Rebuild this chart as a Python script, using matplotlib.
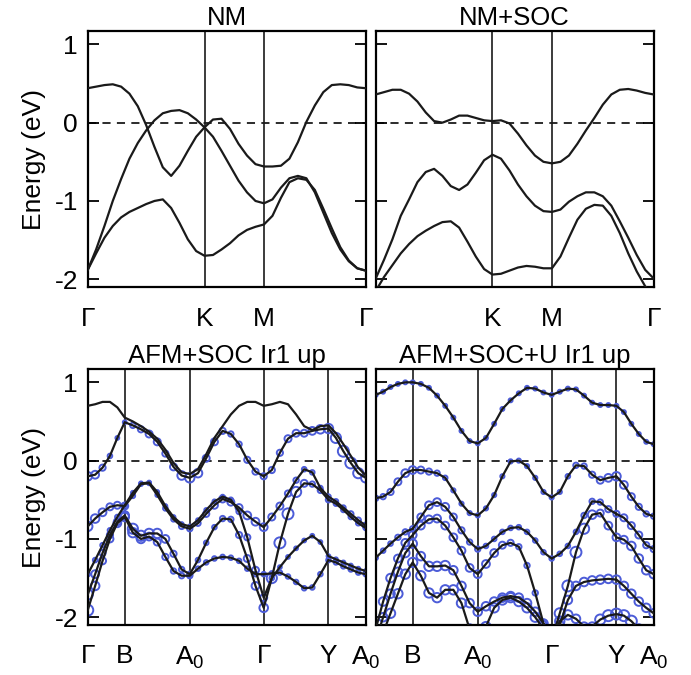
import numpy as np
import matplotlib
matplotlib.use('Agg')
import matplotlib.pyplot as plt

plt.rcParams['font.family'] = ['Liberation Sans', 'DejaVu Sans']
plt.rcParams['mathtext.fontset'] = 'custom'
plt.rcParams['mathtext.rm'] = 'Liberation Sans'
plt.rcParams['mathtext.default'] = 'regular'
plt.rcParams['axes.unicode_minus'] = False
plt.rcParams['font.size'] = 19

## k-path: node positions (fraction of path) and sample steps per segment
topNodes = [0.0, 0.42, 0.634, 1.0]
topSteps = [14, 7, 12]
topLabels = ['Γ', 'K', 'M', 'Γ']

botNodes = [0.0, 0.133, 0.367, 0.633, 0.866, 1.0]
botSteps = [5, 8, 9, 8, 5]
botLabels = ['Γ', 'B', 'A$_0$', 'Γ', 'Y', 'A$_0$']

## NM bands (eV), segments G-K | K-M | M-G
nmBand1 = [0.44, 0.46, 0.48, 0.49, 0.46, 0.37, 0.21, -0.03, -0.31, -0.57, -0.68, -0.55, -0.36, -0.18, -0.06,
           0.04, 0.05, -0.08, -0.27, -0.42, -0.53, -0.56,
           -0.56, -0.55, -0.46, -0.25, 0.01, 0.22, 0.39, 0.48, 0.49, 0.48, 0.45, 0.44]
nmBand2 = [-1.88, -1.62, -1.32, -1.00, -0.72, -0.46, -0.26, -0.10, 0.03, 0.12, 0.15, 0.16, 0.12, 0.04, -0.06,
           -0.18, -0.36, -0.55, -0.74, -0.89, -1.00, -1.03,
           -0.98, -0.83, -0.71, -0.68, -0.71, -0.89, -1.15, -1.41, -1.62, -1.77, -1.86, -1.89]
nmBand3 = [-1.88, -1.67, -1.47, -1.32, -1.21, -1.14, -1.09, -1.04, -1.00, -0.98, -1.09, -1.28, -1.49, -1.64, -1.70,
           -1.69, -1.62, -1.54, -1.44, -1.37, -1.33, -1.30,
           -1.19, -0.96, -0.76, -0.71, -0.73, -0.86, -1.10, -1.35, -1.59, -1.76, -1.86, -1.89]

## NM+SOC bands (eV)
socBand1 = [0.36, 0.39, 0.42, 0.42, 0.37, 0.27, 0.13, 0.02, 0.00, 0.04, 0.09, 0.09, 0.06, 0.03, 0.02,
            0.03, -0.01, -0.14, -0.29, -0.42, -0.50, -0.52,
            -0.50, -0.42, -0.27, -0.10, 0.06, 0.23, 0.36, 0.42, 0.43, 0.41, 0.38, 0.36]
socBand2 = [-1.99, -1.75, -1.49, -1.19, -0.98, -0.76, -0.63, -0.59, -0.68, -0.81, -0.86, -0.79, -0.64, -0.48, -0.41,
            -0.46, -0.61, -0.79, -0.94, -1.06, -1.13, -1.14,
            -1.11, -1.01, -0.94, -0.89, -0.89, -0.94, -1.06, -1.26, -1.47, -1.69, -1.88, -1.99]
socBand3 = [-2.15, -1.97, -1.82, -1.67, -1.55, -1.45, -1.38, -1.32, -1.27, -1.26, -1.34, -1.52, -1.71, -1.87, -1.94,
            -1.93, -1.89, -1.85, -1.83, -1.84, -1.86, -1.86,
            -1.71, -1.47, -1.24, -1.10, -1.05, -1.06, -1.19, -1.41, -1.67, -1.90, -2.09, -2.20]

## AFM+SOC bands (eV), segments G-B | B-A0 | A0-G | G-Y | Y-A0
afmT1 = [0.70, 0.72, 0.75, 0.75, 0.68, 0.55,
         0.50, 0.44, 0.37, 0.28, 0.14, -0.03, -0.15, -0.17,
         -0.11, 0.08, 0.29, 0.44, 0.59, 0.70, 0.75, 0.75, 0.70,
         0.72, 0.75, 0.72, 0.59, 0.44, 0.39, 0.44, 0.45,
         0.35, 0.21, 0.06, -0.09, -0.19]
afmT2 = [-0.20, -0.18, -0.09, 0.06, 0.29, 0.49,
         0.45, 0.40, 0.34, 0.24, 0.09, -0.08, -0.19, -0.22,
         -0.16, 0.03, 0.24, 0.38, 0.34, 0.21, 0.01, -0.14, -0.20,
         -0.12, 0.10, 0.28, 0.35, 0.35, 0.38, 0.40, 0.41,
         0.29, 0.12, -0.03, -0.16, -0.22]
afmM1 = [-0.84, -0.74, -0.66, -0.59, -0.57, -0.58,
         -0.45, -0.30, -0.29, -0.44, -0.61, -0.75, -0.84, -0.87,
         -0.80, -0.68, -0.57, -0.49, -0.53, -0.60, -0.70, -0.78, -0.85,
         -0.72, -0.58, -0.42, -0.25, -0.11, -0.15, -0.35, -0.46,
         -0.52, -0.60, -0.68, -0.76, -0.83]
afmM2 = [-1.45, -1.27, -1.08, -0.89, -0.72, -0.57,
         -0.41, -0.29, -0.28, -0.40, -0.58, -0.72, -0.81, -0.84,
         -0.76, -0.63, -0.52, -0.46, -0.50, -0.65, -0.98, -1.40, -1.75,
         -1.50, -1.36, -1.23, -1.12, -1.02, -0.96, -1.04, -1.22,
         -1.26, -1.30, -1.34, -1.38, -1.41]
afmM3 = [-1.71, -1.45, -1.18, -0.95, -0.78, -0.70,
         -0.87, -0.96, -0.93, -0.93, -1.00, -1.19, -1.39, -1.45,
         -1.27, -1.05, -0.85, -0.74, -0.75, -0.95, -1.25, -1.60, -1.88,
         -1.50, -1.05, -0.68, -0.40, -0.29, -0.30, -0.38, -0.50,
         -0.55, -0.63, -0.72, -0.80, -0.86]
afmM4 = [-1.91, -1.60, -1.28, -1.00, -0.80, -0.72,
         -0.92, -1.00, -0.97, -1.04, -1.23, -1.41, -1.47, -1.47,
         -1.38, -1.30, -1.25, -1.23, -1.24, -1.28, -1.38, -1.45, -1.45,
         -1.44, -1.43, -1.48, -1.55, -1.63, -1.62, -1.45, -1.27,
         -1.30, -1.35, -1.39, -1.43, -1.45]

## Ir1 up weights for AFM+SOC (0..1)
afmW1 = [0.0] * 36
afmW2 = [0.7, 0.6, 0.4, 0.2, 0.1, 0.1,
         0.3, 0.4, 0.5, 0.5, 0.4, 0.5, 0.7, 0.8,
         0.7, 0.5, 0.5, 0.4, 0.3, 0.3, 0.4, 0.4, 0.4,
         0.4, 0.4, 0.5, 0.5, 0.5, 0.6, 0.7, 0.8,
         0.9, 1.0, 1.0, 0.9, 0.8]
afmW3 = [0.8, 0.7, 0.6, 0.5, 0.5, 0.5,
         0.2, 0.1, 0.1, 0.1, 0.2, 0.2, 0.3, 0.3,
         0.3, 0.4, 0.5, 0.5, 0.5, 0.5, 0.6, 0.6, 0.6,
         0.5, 0.5, 0.4, 0.3, 0.2, 0.2, 0.2, 0.2,
         0.2, 0.2, 0.3, 0.3, 0.4]
afmW4 = [0.2, 0.2, 0.2, 0.2, 0.2, 0.2,
         0.1, 0.1, 0.1, 0.1, 0.1, 0.1, 0.1, 0.1,
         0.1, 0.1, 0.1, 0.1, 0.2, 0.3, 0.4, 0.5, 0.5,
         0.2, 0.1, 0.1, 0.1, 0.1, 0.1, 0.1, 0.1,
         0.1, 0.1, 0.1, 0.1, 0.1]
afmW5 = [0.9, 0.6, 0.4, 0.4, 0.5, 0.7,
         0.9, 0.9, 0.8, 0.8, 0.6, 0.4, 0.3, 0.3,
         0.2, 0.2, 0.2, 0.3, 0.3, 0.4, 0.5, 0.6, 0.7,
         0.9, 1.0, 1.0, 0.9, 0.5, 0.3, 0.3, 0.3,
         0.2, 0.2, 0.2, 0.2, 0.2]
afmW6 = [1.0, 0.7, 0.5, 0.5, 0.6, 0.7,
         0.8, 0.7, 0.6, 0.5, 0.4, 0.3, 0.3, 0.3,
         0.2, 0.2, 0.2, 0.2, 0.2, 0.2, 0.2, 0.2, 0.2,
         0.2, 0.2, 0.2, 0.2, 0.2, 0.2, 0.2, 0.2,
         0.2, 0.2, 0.2, 0.2, 0.2]

## AFM+SOC+U bands (eV)
uBand1 = [0.84, 0.88, 0.94, 0.98, 1.00, 1.00,
          0.98, 0.93, 0.83, 0.70, 0.55, 0.38, 0.25, 0.22,
          0.29, 0.47, 0.66, 0.77, 0.86, 0.93, 0.92, 0.87, 0.84,
          0.88, 0.92, 0.91, 0.83, 0.74, 0.71, 0.71, 0.70,
          0.62, 0.47, 0.34, 0.24, 0.21]
uBand2 = [-0.48, -0.46, -0.40, -0.27, -0.16, -0.12,
          -0.12, -0.14, -0.16, -0.22, -0.38, -0.55, -0.67, -0.70,
          -0.61, -0.44, -0.20, -0.01, 0.00, -0.07, -0.22, -0.40, -0.47,
          -0.40, -0.20, -0.06, -0.07, -0.18, -0.25, -0.22, -0.20,
          -0.31, -0.46, -0.59, -0.68, -0.71]
uBand3 = [-1.24, -1.15, -1.06, -0.98, -0.91, -0.87,
          -0.72, -0.57, -0.53, -0.59, -0.72, -0.89, -1.04, -1.13,
          -1.09, -1.00, -0.91, -0.86, -0.85, -0.91, -1.02, -1.17, -1.25,
          -1.19, -1.09, -0.91, -0.70, -0.52, -0.53, -0.62, -0.68,
          -0.73, -0.83, -0.95, -1.08, -1.13]
uBand4 = [-2.15, -1.80, -1.50, -1.25, -1.05, -0.95,
          -0.83, -0.75, -0.74, -0.83, -0.98, -1.15, -1.37, -1.45,
          -1.32, -1.18, -1.08, -1.05, -1.10, -1.34, -1.69, -2.08, -2.30,
          -1.95, -1.60, -1.17, -0.87, -0.69, -0.67, -0.83, -0.98,
          -1.01, -1.09, -1.25, -1.40, -1.45]
uBand5 = [-2.30, -2.00, -1.70, -1.42, -1.18, -1.06,
          -1.22, -1.35, -1.35, -1.34, -1.40, -1.60, -1.82, -1.93,
          -1.86, -1.80, -1.75, -1.73, -1.75, -1.82, -1.93, -2.08, -2.25,
          -2.10, -1.78, -1.60, -1.55, -1.53, -1.52, -1.51, -1.52,
          -1.60, -1.70, -1.80, -1.88, -1.95]
uBand6 = [-2.40, -2.20, -1.95, -1.70, -1.45, -1.30,
          -1.47, -1.69, -1.75, -1.65, -1.65, -1.82, -2.15, -2.30,
          -2.12, -1.88, -1.78, -1.75, -1.80, -1.88, -2.00, -2.15, -2.30,
          -2.05, -1.97, -2.02, -2.12, -2.12, -2.03, -1.98, -1.96,
          -1.98, -2.05, -2.15, -2.25, -2.30]

## Ir1 up weights for AFM+SOC+U
uW1 = [0.12] * 36
uW2 = [0.3, 0.3, 0.4, 0.5, 0.6, 0.6,
       0.5, 0.4, 0.3, 0.2, 0.15, 0.15, 0.15, 0.15,
       0.15, 0.15, 0.15, 0.15, 0.15, 0.15, 0.15, 0.15, 0.15,
       0.15, 0.2, 0.3, 0.3, 0.4, 0.5, 0.6, 0.7,
       0.6, 0.5, 0.4, 0.3, 0.3]
uW3 = [0.2, 0.2, 0.2, 0.3, 0.3, 0.3,
       0.5, 0.6, 0.6, 0.6, 0.5, 0.4, 0.3, 0.3,
       0.2, 0.2, 0.2, 0.2, 0.2, 0.2, 0.2, 0.2, 0.2,
       0.2, 0.2, 0.2, 0.3, 0.3, 0.3, 0.4, 0.4,
       0.5, 0.5, 0.5, 0.4, 0.4]
uW4 = [0.6, 0.7, 0.7, 0.6, 0.6, 0.6,
       0.6, 0.6, 0.6, 0.6, 0.6, 0.6, 0.6, 0.6,
       0.6, 0.6, 0.5, 0.4, 0.3, 0.3, 0.3, 0.3, 0.3,
       0.9, 1.0, 1.0, 0.9, 0.7, 0.5, 0.6, 0.6,
       0.6, 0.7, 0.7, 0.7, 0.7]
uW5 = [0.7, 0.7, 0.7, 0.7, 0.7, 0.7,
       0.7, 0.8, 0.8, 0.8, 0.7, 0.7, 0.7, 0.7,
       0.7, 0.7, 0.7, 0.7, 0.7, 0.7, 0.7, 0.7, 0.7,
       0.7, 0.7, 0.7, 0.7, 0.7, 0.7, 0.7, 0.7,
       0.7, 0.7, 0.7, 0.7, 0.7]
uW6 = [0.8, 0.8, 0.8, 0.8, 0.8, 0.8,
       0.8, 0.8, 0.8, 0.8, 0.8, 0.8, 0.8, 0.8,
       0.8, 0.8, 0.8, 0.8, 0.8, 0.8, 0.8, 0.8, 0.8,
       0.8, 0.8, 0.7, 0.7, 0.7, 0.9, 1.0, 1.0,
       1.0, 1.0, 0.8, 0.8, 0.8]

lineColor = '#1a1a1a'
dotColor = '#4c5cd8'


def kPath(nodes, steps):
    # sample positions along the path, evenly spaced inside each segment
    parts = [np.linspace(nodes[i], nodes[i + 1], steps[i], endpoint=False) for i in range(len(steps))]
    return np.concatenate(parts + [[nodes[-1]]])


def setupAxis(ax, title, nodes, labels, showFirst, showY):
    ax.set_xlim(0, 1)
    ax.set_ylim(-2.1, 1.17)
    for x in nodes[1:-1]:
        ax.axvline(x, color=lineColor, lw=1.2, zorder=1)
    ax.axhline(0, color=lineColor, lw=1.3, ls=(0, (4.5, 3.5)), zorder=1)
    if showFirst:
        ax.set_xticks(nodes)
        ax.set_xticklabels(labels)
    else:
        ax.set_xticks(nodes[1:])
        ax.set_xticklabels(labels[1:])
    ax.tick_params(axis='x', length=0, pad=14)
    ax.set_yticks([-2, -1, 0, 1])
    ax.tick_params(axis='y', direction='in', length=8, width=1.3, left=True, right=True,
                   labelleft=showY, pad=7)
    for sp in ax.spines.values():
        sp.set_linewidth(1.6)
    ax.set_title(title, fontsize=18.5, pad=4)
    if showY:
        ax.set_ylabel('Energy (eV)', labelpad=6)


def drawBands(ax, k, bands, weights=None):
    for i, band in enumerate(bands):
        ax.plot(k, band, color=lineColor, lw=1.6, zorder=3)
        if weights is not None:
            w = np.array(weights[i])
            keep = w > 0
            sizes = ((3.0 + 8.0 * w[keep]) * 0.72) ** 2
            ax.scatter(k[keep], np.array(band)[keep], s=sizes, facecolors='none',
                       edgecolors=dotColor, linewidths=1.4, zorder=2)


kTop = kPath(topNodes, topSteps)
kBot = kPath(botNodes, botSteps)

fig, axs = plt.subplots(2, 2, figsize=(6.91, 6.75), dpi=100)
fig.subplots_adjust(left=0.127, right=0.946, top=0.954, bottom=0.074, wspace=0.036, hspace=0.32)

drawBands(axs[0, 0], kTop, [nmBand1, nmBand2, nmBand3])
setupAxis(axs[0, 0], 'NM', topNodes, topLabels, True, True)

drawBands(axs[0, 1], kTop, [socBand1, socBand2, socBand3])
setupAxis(axs[0, 1], 'NM+SOC', topNodes, topLabels, False, False)

drawBands(axs[1, 0], kBot, [afmT1, afmT2, afmM1, afmM2, afmM3, afmM4],
          [afmW1, afmW2, afmW3, afmW4, afmW5, afmW6])
setupAxis(axs[1, 0], 'AFM+SOC Ir1 up', botNodes, botLabels, True, True)

drawBands(axs[1, 1], kBot, [uBand1, uBand2, uBand3, uBand4, uBand5, uBand6],
          [uW1, uW2, uW3, uW4, uW5, uW6])
setupAxis(axs[1, 1], 'AFM+SOC+U Ir1 up', botNodes, botLabels, False, False)

fig.savefig('out.png', dpi=100)
